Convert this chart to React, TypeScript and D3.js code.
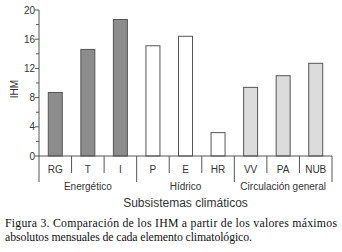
import React from "react";
import * as d3 from "d3";

const categories = ["RG", "T", "I", "P", "E", "HR", "VV", "PA", "NUB"];
const values = [8.7, 14.6, 18.7, 15.1, 16.4, 3.2, 9.4, 11.0, 12.7];
const groupOf = [0, 0, 0, 1, 1, 1, 2, 2, 2];
const groups = ["Energético", "Hídrico", "Circulación general"];
const groupFills = ["#8c8c8c", "#ffffff", "#dcdcdc"];
const majorTicks = [0, 4, 8, 12, 16, 20];
const minorTicks = [2, 6, 10, 14, 18];

export default function App() {
  const W = 342, H = 252;
  const left = 39, right = 332, top = 10, bottom = 156;
  const x = d3.scaleBand<string>().domain(categories).range([left, right]).paddingInner(0).paddingOuter(0);
  const y = d3.scaleLinear().domain([0, 20]).range([bottom, top]);
  const bw = 14;
  const sans = "'Liberation Sans', Arial, sans-serif";
  const serif = "'Liberation Serif', 'Times New Roman', serif";
  const axisColor = "#555";
  const textColor = "#333";
  const groupStarts = [0, 3, 6];
  return (
    <svg width={W} height={H} style={{ position: "absolute", left: 0, top: 0, background: "#fff" }}>
      {categories.map((c, i) => {
        const cx = (x(c) as number) + x.bandwidth() / 2;
        return (
          <rect key={c} x={cx - bw / 2} y={y(values[i])} width={bw} height={bottom - y(values[i])}
            fill={groupFills[groupOf[i]]} stroke="#555" strokeWidth={1} />
        );
      })}
      <line x1={left} x2={left} y1={top} y2={bottom} stroke={axisColor} strokeWidth={1} />
      {majorTicks.map((t) => (
        <g key={t}>
          <line x1={left - 4} x2={left} y1={y(t)} y2={y(t)} stroke={axisColor} />
          <text x={left - 4} y={y(t)} dy="0.35em" textAnchor="end" fontFamily={sans} fontSize={10} fill={textColor}>{t}</text>
        </g>
      ))}
      {minorTicks.map((t) => (
        <line key={t} x1={left - 3} x2={left} y1={y(t)} y2={y(t)} stroke={axisColor} />
      ))}
      <text transform={`translate(14,${(top + bottom) / 2 + 6}) rotate(-90)`} textAnchor="middle" dy="0.35em"
        fontFamily={sans} fontSize={10} fill={textColor}>IHM</text>
      <line x1={left} x2={right} y1={bottom} y2={bottom} stroke={axisColor} />
      {d3.range(categories.length + 1).map((i) => {
        const xx = i < categories.length ? (x(categories[i]) as number) : right;
        const isGroup = groupStarts.includes(i) || i === categories.length;
        return <line key={i} x1={xx} x2={xx} y1={bottom} y2={isGroup ? 182 : 173} stroke={axisColor} />;
      })}
      {categories.map((c) => (
        <text key={c} x={(x(c) as number) + x.bandwidth() / 2} y={169} dy="0.35em" textAnchor="middle"
          fontFamily={sans} fontSize={10} fill={textColor}>{c}</text>
      ))}
      {groups.map((g, gi) => {
        const a = x(categories[groupStarts[gi]]) as number;
        const b = a + 3 * x.bandwidth();
        return (
          <text key={g} x={(a + b) / 2} y={186} dy="0.35em" textAnchor="middle" fontFamily={sans} fontSize={10} fill={textColor}>{g}</text>
        );
      })}
      <text x={(left + right) / 2} y={203} dy="0.35em" textAnchor="middle" fontFamily={sans} fontSize={12} fill={textColor}>Subsistemas climáticos</text>
      <text x={5} y={227} fontFamily={serif} fontSize={11.8} fill="#111"
        textLength={332} lengthAdjust="spacing">Figura 3. Comparación de los IHM a partir de los valores máximos</text>
      <text x={5} y={241} fontFamily={serif} fontSize={11.8} fill="#111"
        textLength={247} lengthAdjust="spacing">absolutos mensuales de cada elemento climatológico.</text>
    </svg>
  );
}
